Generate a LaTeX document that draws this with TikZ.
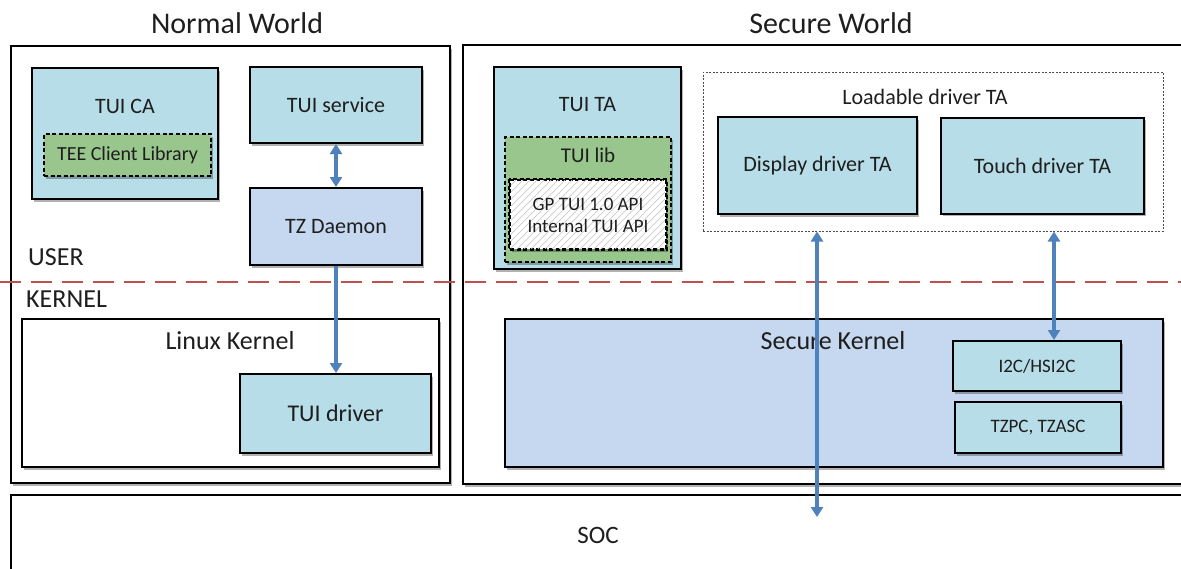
\documentclass[tikz,border=0pt]{standalone}
\usepackage{fontspec}
\setmainfont{Carlito}
\usetikzlibrary{arrows.meta,shadows}
\definecolor{aqua}{HTML}{B7DDE8}
\definecolor{steel}{HTML}{C6D8EF}
\definecolor{libgreen}{HTML}{99C68C}
\definecolor{linkblue}{HTML}{4F81BD}
\definecolor{seprule}{HTML}{C0504D}
\definecolor{ink}{HTML}{1E1E1E}
\newcommand{\fs}[1]{\fontsize{#1}{#1}\selectfont}
\begin{document}
\begin{tikzpicture}[x=1pt,y=-1pt,
  shade/.style={drop shadow={shadow xshift=2pt,shadow yshift=-2.5pt,opacity=0.3,fill=black}},
  frame/.style={draw=black,line width=2pt,rectangle,inner sep=0pt,fill=white,shade},
  cell/.style={draw=black,line width=2pt,rectangle,inner sep=0pt,fill=aqua,shade},
  steelcell/.style={cell,fill=steel},
  libcell/.style={draw=black,line width=1.6pt,dash pattern=on 4pt off 2.5pt,rectangle,inner sep=0pt,fill=libgreen,shade},
  apicell/.style={draw=black,line width=1.6pt,dash pattern=on 4pt off 2.5pt,rectangle,inner sep=0pt,fill=white,shade},
  groupbox/.style={draw=black!70,line width=1pt,dash pattern=on 2pt off 1.5pt,rectangle,inner sep=0pt},
  txt/.style={text=ink,inner sep=0pt,align=center},
  link/.style={draw=linkblue,line width=3.5pt,{Triangle[width=12pt,length=10pt]}-{Triangle[width=12pt,length=10pt]}},
  downlink/.style={draw=linkblue,line width=3.5pt,-{Triangle[width=12pt,length=10pt]}},
]
\useasboundingbox[fill=white] (0,0) rectangle (1181,568);

% world frames and SOC
\node[frame,minimum width=439pt,minimum height=437pt] (nw) at (230.5,264.5) {};
\node[frame,minimum width=737pt,minimum height=439pt] (sw) at (831.5,264.5) {};
\node[frame,minimum width=1189pt,minimum height=105pt] (soc) at (605.5,547.5) {};

\node[txt,font=\fs{30}] (nwtitle) at (237,23) {Normal World};
\node[txt,font=\fs{30}] (swtitle) at (831,23) {Secure World};
\node[txt,font=\fs{25}] (soclabel) at (598,535) {SOC};

% normal world, user side
\node[cell,minimum width=186pt,minimum height=131pt] (tuica) at (125,133.5) {};
\node[txt,font=\fs{22}] (tuicalabel) at (125,106) {TUI CA};
\node[libcell,minimum width=167pt,minimum height=42pt] (teelib) at (127.5,155) {};
\node[txt,font=\fs{20}] (teeliblabel) at (127.5,155) {TEE Client Library};

\node[cell,minimum width=172pt,minimum height=76pt] (tuisvc) at (336,105) {};
\node[txt,font=\fs{22}] (tuisvclabel) at (336,105) {TUI service};
\node[steelcell,minimum width=172pt,minimum height=77pt] (tzd) at (336,226.5) {};
\node[txt,font=\fs{22}] (tzdlabel) at (336,227) {TZ Daemon};

% normal world, kernel side
\node[frame,minimum width=417pt,minimum height=148pt] (linux) at (230.5,393) {};
\node[txt,font=\fs{26}] (linuxlabel) at (230,341) {Linux Kernel};
\node[cell,minimum width=191pt,minimum height=79pt] (tuidrv) at (335.5,413.5) {};
\node[txt,font=\fs{24}] (tuidrvlabel) at (335.5,413) {TUI driver};

% secure world, user side
\node[cell,minimum width=187pt,minimum height=202pt] (tuita) at (587.5,168) {};
\node[txt,font=\fs{22}] (tuitalabel) at (587.5,105) {TUI TA};
\node[libcell,minimum width=166pt,minimum height=125pt] (tuilib) at (588,199.5) {};
\node[txt,font=\fs{21}] (tuiliblabel) at (588,155) {TUI lib};
\node[apicell,minimum width=156pt,minimum height=69pt] (gpapi) at (588,214.5) {};
\begin{scope}
  \clip (510.8,180.8) rectangle (665.2,248.2);
  \foreach \i in {430,437,...,680}
    \draw[black!20,line width=0.7pt] (\i,252) -- (\i+76,176);
\end{scope}
\draw[black,line width=1.6pt,dash pattern=on 4pt off 2.5pt] (gpapi.north west) rectangle (gpapi.south east);
\node[txt,font=\fontsize{19}{22}\selectfont] (gpapilabel) at (588,215) {GP TUI 1.0 API\\Internal TUI API};

\node[groupbox,minimum width=460pt,minimum height=159pt] (loadable) at (933,151.5) {};
\node[txt,font=\fs{22}] (loadablelabel) at (925,97) {Loadable driver TA};
\node[cell,minimum width=199pt,minimum height=97pt] (disp) at (817.5,165.5) {};
\node[txt,font=\fs{22}] (displabel) at (817.5,166) {Display driver TA};
\node[cell,minimum width=203pt,minimum height=96pt] (touch) at (1042.5,165.5) {};
\node[txt,font=\fs{22}] (touchlabel) at (1042.5,166) {Touch driver TA};

% secure world, kernel side
\node[steelcell,minimum width=658pt,minimum height=148pt] (seck) at (834,393) {};
\node[txt,font=\fs{26}] (secklabel) at (833,341) {Secure Kernel};
\node[cell,minimum width=168pt,minimum height=50pt] (i2c) at (1037,366) {};
\node[txt,font=\fs{19}] (i2clabel) at (1037,366) {I2C/HSI2C};
\node[cell,minimum width=166pt,minimum height=51pt] (tzpc) at (1038,427.5) {};
\node[txt,font=\fs{19}] (tzpclabel) at (1038,428) {TZPC, TZASC};

% user / kernel boundary
\coordinate (sepL) at (0,282);
\coordinate (sepR) at (1181,282);
\draw[seprule,line width=2.5pt,dash pattern=on 21pt off 10pt] (sepL) -- (sepR);
\node[txt,anchor=west,font=\fs{26}] (userlabel) at (28,257) {USER};
\node[txt,anchor=west,font=\fs{26}] (kernellabel) at (26,299) {KERNEL};

% connectors
\coordinate (touchx) at (1054,0);
\coordinate (socend) at (817,517);
\draw[link] (tuisvc.south) -- (tzd.north);
\draw[downlink] (tzd.south) -- (tzd.south |- tuidrv.north);
\draw[link] (socend |- loadable.south) -- (socend);
\draw[link] (touchx |- loadable.south) -- (touchx |- i2c.north);
\end{tikzpicture}
\end{document}
